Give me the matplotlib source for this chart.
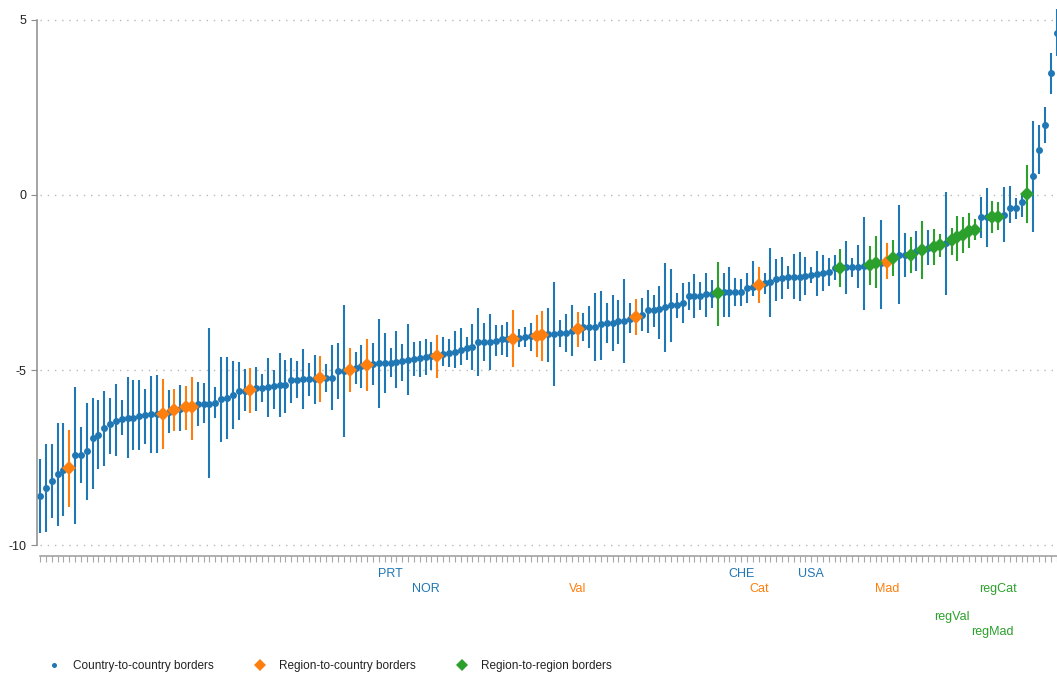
import matplotlib
matplotlib.use("Agg")
import matplotlib.pyplot as plt
from matplotlib.lines import Line2D
import numpy as np

# ---------------- data ----------------
estimate = [
    -8.60, -8.38, -8.17, -7.97, -7.86, -7.81, -7.44, -7.42, -7.32, -6.94,
    -6.85, -6.67, -6.54, -6.46, -6.40, -6.36, -6.36, -6.30, -6.29, -6.27,
    -6.27, -6.25, -6.21, -6.14, -6.10, -6.06, -6.06, -5.96, -5.96, -5.96,
    -5.93, -5.84, -5.81, -5.72, -5.59, -5.59, -5.56, -5.50, -5.50, -5.49,
    -5.46, -5.44, -5.44, -5.29, -5.29, -5.27, -5.26, -5.25, -5.24, -5.22,
    -5.22, -5.03, -5.02, -5.00, -4.93, -4.89, -4.86, -4.83, -4.81, -4.81,
    -4.79, -4.78, -4.74, -4.71, -4.68, -4.67, -4.64, -4.60, -4.59, -4.54,
    -4.50, -4.48, -4.43, -4.38, -4.35, -4.20, -4.20, -4.20, -4.16, -4.12,
    -4.11, -4.10, -4.08, -4.05, -4.03, -4.02, -4.00, -3.98, -3.96, -3.95,
    -3.93, -3.88, -3.83, -3.78, -3.76, -3.76, -3.68, -3.67, -3.65, -3.61,
    -3.59, -3.53, -3.48, -3.43, -3.30, -3.30, -3.27, -3.21, -3.15, -3.15,
    -3.08, -2.90, -2.90, -2.89, -2.83, -2.83, -2.81, -2.78, -2.77, -2.77,
    -2.77, -2.67, -2.62, -2.57, -2.52, -2.49, -2.41, -2.36, -2.35, -2.33,
    -2.33, -2.31, -2.29, -2.26, -2.24, -2.21, -2.10, -2.08, -2.06, -2.06,
    -2.05, -2.03, -2.01, -1.95, -1.93, -1.91, -1.79, -1.71, -1.71, -1.71,
    -1.59, -1.57, -1.52, -1.48, -1.43, -1.38, -1.29, -1.21, -1.13, -1.03,
    -0.99, -0.64, -0.64, -0.64, -0.64, -0.57, -0.38, -0.38, -0.21, 0.04,
    0.54, 1.29, 2.00, 3.48, 4.64,
]
upper = [
    -7.54, -7.12, -7.10, -6.50, -6.52, -6.70, -5.48, -6.62, -5.95, -5.79,
    -5.86, -5.59, -5.81, -5.40, -5.86, -5.19, -5.29, -5.29, -5.55, -5.16,
    -5.15, -5.26, -5.57, -5.55, -5.43, -5.46, -5.21, -5.33, -5.36, -3.81,
    -5.48, -4.62, -4.64, -4.74, -4.76, -4.98, -4.93, -4.92, -5.11, -4.67,
    -5.00, -4.52, -4.71, -4.67, -4.74, -4.41, -4.79, -4.57, -4.60, -4.83,
    -4.29, -4.24, -3.14, -4.38, -4.48, -4.29, -4.10, -4.22, -3.55, -3.93,
    -4.38, -3.90, -4.26, -3.69, -4.21, -4.16, -4.12, -4.21, -4.00, -4.05,
    -4.12, -3.90, -3.79, -4.05, -3.69, -3.24, -3.67, -3.40, -3.71, -3.71,
    -3.64, -3.30, -3.84, -3.78, -3.65, -3.44, -3.31, -3.24, -2.48, -3.57,
    -3.41, -3.14, -3.33, -3.38, -3.17, -2.79, -2.73, -3.10, -2.86, -3.00,
    -2.41, -3.10, -2.98, -2.93, -2.71, -2.86, -2.60, -1.95, -2.12, -2.79,
    -2.52, -2.50, -2.26, -2.48, -2.22, -2.43, -1.92, -2.24, -2.07, -2.38,
    -2.40, -2.22, -1.90, -2.05, -2.24, -1.52, -1.82, -1.78, -2.03, -1.69,
    -1.64, -1.76, -2.07, -1.59, -1.71, -1.81, -1.71, -1.54, -1.31, -1.80,
    -1.44, -0.64, -1.46, -1.17, -0.71, -1.38, -1.29, -0.30, -1.10, -1.21,
    -1.03, -0.73, -1.00, -0.97, -1.12, 0.09, -0.95, -0.60, -0.64, -0.52,
    -0.70, -0.07, 0.21, -0.17, -0.20, 0.22, 0.26, -0.10, 0.03, 0.86,
    2.12, 2.00, 2.50, 4.05, 5.30,
]
lower = [
    -9.67, -9.62, -9.24, -9.45, -9.17, -8.90, -9.40, -8.22, -8.70, -8.40,
    -7.84, -7.74, -7.40, -7.46, -6.86, -7.50, -7.29, -7.29, -7.12, -7.36,
    -7.36, -7.25, -6.79, -6.74, -6.73, -6.71, -7.00, -6.60, -6.52, -8.09,
    -6.38, -7.07, -6.97, -6.69, -6.43, -6.17, -6.22, -6.16, -5.90, -6.33,
    -6.10, -6.35, -6.24, -5.93, -5.81, -6.12, -5.74, -5.97, -5.90, -5.62,
    -6.14, -5.83, -6.90, -5.62, -5.41, -5.50, -5.60, -5.43, -6.08, -5.67,
    -5.21, -5.50, -5.30, -5.71, -5.17, -5.19, -5.14, -5.00, -5.22, -4.89,
    -4.92, -4.95, -4.86, -4.71, -5.00, -5.16, -4.73, -5.00, -4.60, -4.57,
    -4.62, -4.90, -4.35, -4.33, -4.45, -4.64, -4.73, -4.76, -5.46, -4.33,
    -4.48, -4.60, -4.33, -4.16, -4.36, -4.73, -4.70, -4.22, -4.45, -4.27,
    -4.79, -3.95, -4.00, -3.90, -3.93, -3.78, -4.10, -4.48, -4.19, -3.52,
    -3.67, -3.29, -3.52, -3.29, -3.48, -3.24, -3.73, -3.48, -3.50, -3.17,
    -3.17, -3.10, -2.90, -3.10, -2.83, -3.48, -3.03, -2.96, -2.68, -2.98,
    -3.04, -2.86, -2.52, -2.90, -2.73, -2.59, -2.43, -2.62, -2.84, -2.35,
    -2.65, -3.29, -2.56, -2.67, -3.27, -2.41, -2.31, -3.11, -2.33, -2.22,
    -2.16, -2.41, -2.00, -2.00, -1.76, -2.86, -1.71, -1.90, -1.67, -1.52,
    -1.29, -1.24, -1.49, -1.08, -1.00, -1.35, -0.81, -0.69, -0.62, -0.79,
    -1.05, 0.59, 1.48, 2.89, 3.97,
]
# positions (rank) of region-to-country and region-to-region estimates
region_country_idx = [5, 21, 23, 25, 26, 36, 48, 53, 56, 68, 81, 85, 86, 92, 102, 123, 145]
region_region_idx = [116, 137, 142, 143, 146, 149, 151, 153, 154, 156, 157, 158, 159, 160, 163, 164, 169]

label_names = ["PRT", "NOR", "Val", "CHE", "Cat", "USA", "Mad", "regVal", "regMad", "regCat"]
label_idx = [60, 66, 92, 120, 123, 132, 145, 156, 163, 164]
label_row = [0, 1, 1, 0, 1, 0, 1, 2, 3, 1]

series_names = ["Country-to-country borders", "Region-to-country borders", "Region-to-region borders"]
y_ticks = [-10, -5, 0, 5]

# ---------------- styling ----------------
plt.rcParams['font.family'] = ['Liberation Sans', 'DejaVu Sans']
FS = 9.0
C_BLUE, C_ORANGE, C_GREEN = "#1f77b4", "#ff7f0e", "#2ca02c"

est = np.array(estimate)
hi = np.array(upper)
lo = np.array(lower)
x = np.arange(len(est))
kind = np.zeros(len(est), dtype=int)
kind[region_country_idx] = 1
kind[region_region_idx] = 2
colors = [C_BLUE, C_ORANGE, C_GREEN]

W, H = 1057, 677
fig = plt.figure(figsize=(W / 100, H / 100), dpi=100)
ax = fig.add_axes([40 / W, (H - 556) / H, 1017 / W, 556 / H])
ax.set_xlim(0, 1017 / 5.843)
ax.set_ylim(-10.314, 5.571)

# grid
ax.set_yticks(y_ticks)
ax.set_yticklabels([str(t) for t in y_ticks])
ax.grid(axis='y', color='#b8b8b8', linestyle=(0, (1, 4.2)), linewidth=1.0)
ax.set_axisbelow(True)

# marks
for k in range(3):
    m = kind == k
    ax.vlines(x[m], lo[m], hi[m], color=colors[k], lw=1.5, zorder=2 + k, clip_on=False)
    if k == 0:
        ax.plot(x[m], est[m], 'o', color=colors[k], ms=5.0, mew=0, zorder=2.5 + k, clip_on=False)
    else:
        ax.plot(x[m], est[m], 'D', color=colors[k], ms=7.4, mew=0, zorder=2.5 + k, clip_on=False)

# labels under the axis
row_y = [-10.90, -11.33, -12.14, -12.57]
for name, i, r in zip(label_names, label_idx, label_row):
    ax.text(i, row_y[r], name, ha='center', va='baseline', fontsize=FS,
            color=colors[kind[i]], clip_on=False)

# spines and ticks
for s in ['top', 'right']:
    ax.spines[s].set_visible(False)
ax.spines['left'].set_bounds(-10, 5)
ax.spines['left'].set_position(('outward', 2.4))
ax.spines['left'].set_color('#8c8c8c')
ax.spines['left'].set_linewidth(1.1)
ax.spines['bottom'].set_color('#9a9a9a')
ax.spines['bottom'].set_linewidth(1.1)
ax.tick_params(axis='y', length=4.3, width=0.8, color='#8c8c8c', pad=3.2,
               labelsize=FS, labelcolor='#222222')
ax.set_xticks([])
ax.set_xticks(x, minor=True)
ax.tick_params(axis='x', which='minor', length=4.3, width=0.8, color='#a8a8a8',
               labelbottom=False)

# legend
handles = [
    Line2D([], [], marker='o', ls='none', color=C_BLUE, ms=3.6, mew=0),
    Line2D([], [], marker='D', ls='none', color=C_ORANGE, ms=6.6, mew=0),
    Line2D([], [], marker='D', ls='none', color=C_GREEN, ms=6.6, mew=0),
]
fig.legend(handles, series_names, loc='center left',
           bbox_to_anchor=(48 / W, 1 - 666 / H), bbox_transform=fig.transFigure,
           ncol=3, frameon=False, borderpad=0, borderaxespad=0,
           handlelength=1.0, handletextpad=1.1, columnspacing=3.45, fontsize=8.5,
           labelcolor='#222222')

fig.savefig("out.png", dpi=100)
